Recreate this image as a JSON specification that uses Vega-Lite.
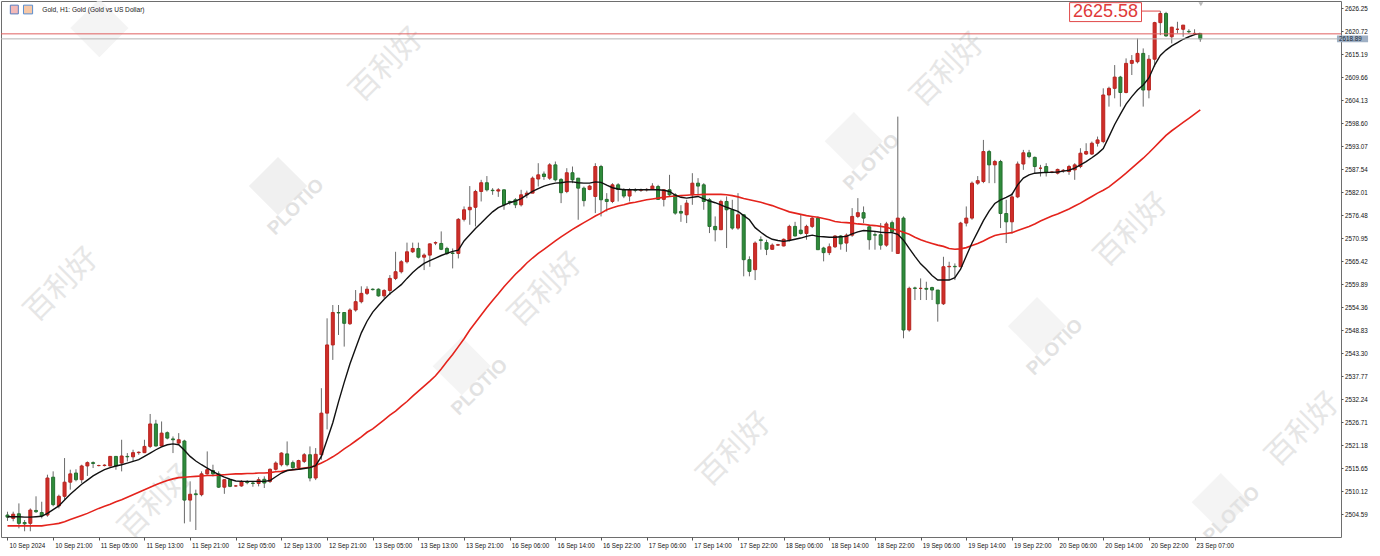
{
"$schema": "https://vega.github.io/schema/vega-lite/v6.json",
"width": 1340, "height": 536,
"autosize": {"type": "none"},
"padding": {"left": 1, "top": 1, "right": 39, "bottom": 19},
"background": "white",
"config": {"view": {"stroke": "#6e6e6e", "strokeWidth": 1}, "font": "Liberation Sans",
  "axis": {"labelFont": "Liberation Sans", "labelFontSize": 6.3, "labelColor": "#111111", "tickColor": "#555555", "grid": false, "domain": false, "title": null, "labelOverlap": false, "labelFlush": false}},
"data": {"values": [
{"i":0,"o":2504.4,"h":2505.2,"l":2503.0,"c":2503.9,"f":2504.0,"s":2501.8},
{"i":1,"o":2503.6,"h":2505.2,"l":2502.9,"c":2504.6,"f":2504.0,"s":2501.8},
{"i":2,"o":2504.7,"h":2507.2,"l":2501.2,"c":2502.4,"f":2504.0,"s":2501.8},
{"i":3,"o":2502.6,"h":2503.2,"l":2500.5,"c":2502.3,"f":2503.9,"s":2501.8},
{"i":4,"o":2502.4,"h":2506.0,"l":2500.5,"c":2505.6,"f":2503.9,"s":2501.8},
{"i":5,"o":2505.5,"h":2508.9,"l":2504.9,"c":2505.2,"f":2504.0,"s":2501.8},
{"i":6,"o":2505.0,"h":2507.6,"l":2503.6,"c":2504.2,"f":2504.1,"s":2501.8},
{"i":7,"o":2504.4,"h":2514.1,"l":2504.0,"c":2513.3,"f":2504.8,"s":2502.0},
{"i":8,"o":2513.5,"h":2514.9,"l":2506.5,"c":2506.9,"f":2505.7,"s":2502.2},
{"i":9,"o":2506.6,"h":2509.3,"l":2506.0,"c":2508.9,"f":2506.6,"s":2502.4},
{"i":10,"o":2508.9,"h":2518.1,"l":2508.1,"c":2512.3,"f":2508.0,"s":2502.8},
{"i":11,"o":2512.3,"h":2515.3,"l":2510.5,"c":2514.3,"f":2509.4,"s":2503.3},
{"i":12,"o":2514.5,"h":2515.4,"l":2512.5,"c":2512.9,"f":2510.6,"s":2503.8},
{"i":13,"o":2512.9,"h":2516.5,"l":2512.1,"c":2516.2,"f":2511.8,"s":2504.3},
{"i":14,"o":2516.2,"h":2517.3,"l":2513.8,"c":2517.0,"f":2512.8,"s":2504.8},
{"i":15,"o":2517.0,"h":2517.3,"l":2515.7,"c":2516.8,"f":2513.8,"s":2505.4},
{"i":16,"o":2516.3,"h":2516.5,"l":2516.1,"c":2516.3,"f":2514.6,"s":2506.0},
{"i":17,"o":2516.3,"h":2516.6,"l":2516.1,"c":2516.4,"f":2515.3,"s":2506.5},
{"i":18,"o":2516.2,"h":2518.6,"l":2516.1,"c":2518.5,"f":2515.8,"s":2507.0},
{"i":19,"o":2518.5,"h":2518.6,"l":2515.3,"c":2516.2,"f":2516.2,"s":2507.6},
{"i":20,"o":2516.9,"h":2522.5,"l":2514.9,"c":2518.6,"f":2516.5,"s":2508.1},
{"i":21,"o":2518.5,"h":2519.3,"l":2517.3,"c":2518.4,"f":2516.9,"s":2508.7},
{"i":22,"o":2518.4,"h":2520.1,"l":2517.3,"c":2519.4,"f":2517.3,"s":2509.3},
{"i":23,"o":2519.4,"h":2519.7,"l":2518.9,"c":2519.5,"f":2517.7,"s":2509.9},
{"i":24,"o":2519.4,"h":2522.5,"l":2519.3,"c":2520.9,"f":2518.5,"s":2510.5},
{"i":25,"o":2520.9,"h":2528.7,"l":2520.5,"c":2526.3,"f":2519.3,"s":2511.1},
{"i":26,"o":2526.3,"h":2527.3,"l":2520.9,"c":2521.0,"f":2520.1,"s":2511.7},
{"i":27,"o":2521.0,"h":2526.9,"l":2520.9,"c":2524.1,"f":2520.8,"s":2512.2},
{"i":28,"o":2524.2,"h":2524.5,"l":2522.6,"c":2522.9,"f":2521.3,"s":2512.7},
{"i":29,"o":2522.7,"h":2523.3,"l":2519.3,"c":2522.5,"f":2521.5,"s":2513.1},
{"i":30,"o":2521.7,"h":2524.1,"l":2521.3,"c":2522.5,"f":2521.3,"s":2513.4},
{"i":31,"o":2522.2,"h":2522.5,"l":2502.4,"c":2508.0,"f":2520.0,"s":2513.5},
{"i":32,"o":2508.0,"h":2512.5,"l":2502.8,"c":2509.4,"f":2518.5,"s":2513.6},
{"i":33,"o":2509.5,"h":2510.5,"l":2500.8,"c":2509.3,"f":2517.4,"s":2513.7},
{"i":34,"o":2509.3,"h":2514.9,"l":2508.9,"c":2514.3,"f":2516.5,"s":2513.8},
{"i":35,"o":2514.3,"h":2519.7,"l":2514.1,"c":2515.3,"f":2515.7,"s":2513.9},
{"i":36,"o":2515.1,"h":2516.5,"l":2513.7,"c":2514.3,"f":2514.9,"s":2513.9},
{"i":37,"o":2514.3,"h":2514.9,"l":2510.9,"c":2511.1,"f":2514.1,"s":2514.0},
{"i":38,"o":2511.1,"h":2513.0,"l":2509.5,"c":2512.9,"f":2513.5,"s":2514.1},
{"i":39,"o":2512.9,"h":2513.0,"l":2511.1,"c":2511.3,"f":2513.0,"s":2514.2},
{"i":40,"o":2511.4,"h":2511.6,"l":2511.2,"c":2511.4,"f":2512.6,"s":2514.3},
{"i":41,"o":2511.4,"h":2512.8,"l":2511.2,"c":2512.5,"f":2512.5,"s":2514.3},
{"i":42,"o":2512.4,"h":2512.8,"l":2511.8,"c":2512.2,"f":2512.5,"s":2514.4},
{"i":43,"o":2512.1,"h":2512.5,"l":2511.2,"c":2512.0,"f":2512.5,"s":2514.4},
{"i":44,"o":2512.0,"h":2513.5,"l":2511.3,"c":2512.9,"f":2512.5,"s":2514.5},
{"i":45,"o":2513.0,"h":2513.7,"l":2510.9,"c":2512.1,"f":2512.5,"s":2514.5},
{"i":46,"o":2512.5,"h":2515.6,"l":2512.1,"c":2515.4,"f":2512.7,"s":2514.6},
{"i":47,"o":2515.4,"h":2517.3,"l":2515.1,"c":2516.9,"f":2513.6,"s":2514.8},
{"i":48,"o":2516.5,"h":2519.5,"l":2516.1,"c":2519.3,"f":2514.5,"s":2514.9},
{"i":49,"o":2519.1,"h":2522.1,"l":2516.1,"c":2516.5,"f":2515.1,"s":2515.1},
{"i":50,"o":2517.0,"h":2517.5,"l":2515.4,"c":2515.8,"f":2515.3,"s":2515.3},
{"i":51,"o":2515.8,"h":2517.7,"l":2515.4,"c":2517.5,"f":2515.4,"s":2515.5},
{"i":52,"o":2517.3,"h":2519.3,"l":2516.9,"c":2518.9,"f":2515.6,"s":2515.7},
{"i":53,"o":2518.9,"h":2520.9,"l":2512.5,"c":2513.3,"f":2515.8,"s":2515.9},
{"i":54,"o":2513.3,"h":2520.5,"l":2512.8,"c":2519.0,"f":2516.3,"s":2516.3},
{"i":55,"o":2518.9,"h":2534.9,"l":2517.7,"c":2528.9,"f":2518.5,"s":2516.9},
{"i":56,"o":2528.9,"h":2551.7,"l":2525.0,"c":2545.3,"f":2522.5,"s":2517.6},
{"i":57,"o":2545.3,"h":2554.9,"l":2541.7,"c":2553.1,"f":2526.6,"s":2518.4},
{"i":58,"o":2553.1,"h":2554.9,"l":2547.7,"c":2553.0,"f":2531.6,"s":2519.3},
{"i":59,"o":2553.1,"h":2553.1,"l":2544.9,"c":2550.5,"f":2536.3,"s":2520.3},
{"i":60,"o":2550.4,"h":2554.1,"l":2550.1,"c":2553.7,"f":2540.7,"s":2521.2},
{"i":61,"o":2553.7,"h":2558.5,"l":2553.3,"c":2555.7,"f":2544.5,"s":2522.2},
{"i":62,"o":2555.7,"h":2559.4,"l":2555.3,"c":2557.7,"f":2548.2,"s":2523.2},
{"i":63,"o":2557.7,"h":2559.4,"l":2557.3,"c":2558.7,"f":2551.0,"s":2524.3},
{"i":64,"o":2558.7,"h":2558.9,"l":2558.4,"c":2558.6,"f":2553.2,"s":2525.1},
{"i":65,"o":2558.7,"h":2558.9,"l":2556.9,"c":2557.1,"f":2554.8,"s":2526.2},
{"i":66,"o":2557.1,"h":2558.7,"l":2556.5,"c":2558.4,"f":2556.3,"s":2527.3},
{"i":67,"o":2558.4,"h":2562.1,"l":2557.3,"c":2561.3,"f":2557.6,"s":2528.4},
{"i":68,"o":2561.3,"h":2567.7,"l":2560.9,"c":2562.9,"f":2558.7,"s":2529.4},
{"i":69,"o":2562.9,"h":2565.7,"l":2562.5,"c":2565.3,"f":2559.8,"s":2530.6},
{"i":70,"o":2565.3,"h":2569.9,"l":2564.9,"c":2567.7,"f":2561.3,"s":2531.7},
{"i":71,"o":2567.7,"h":2569.9,"l":2567.4,"c":2568.5,"f":2562.7,"s":2533.0},
{"i":72,"o":2568.5,"h":2569.9,"l":2566.1,"c":2566.4,"f":2563.9,"s":2534.2},
{"i":73,"o":2566.4,"h":2567.3,"l":2563.3,"c":2566.9,"f":2564.9,"s":2535.4},
{"i":74,"o":2566.9,"h":2569.7,"l":2564.1,"c":2569.6,"f":2565.6,"s":2536.6},
{"i":75,"o":2569.8,"h":2570.2,"l":2569.3,"c":2569.9,"f":2566.2,"s":2537.9},
{"i":76,"o":2569.7,"h":2572.6,"l":2568.1,"c":2568.3,"f":2566.8,"s":2539.5},
{"i":77,"o":2568.5,"h":2568.9,"l":2566.9,"c":2567.3,"f":2567.3,"s":2541.3},
{"i":78,"o":2567.4,"h":2568.5,"l":2563.7,"c":2567.3,"f":2567.8,"s":2543.0},
{"i":79,"o":2567.3,"h":2575.8,"l":2566.1,"c":2575.5,"f":2568.1,"s":2544.9},
{"i":80,"o":2575.5,"h":2578.6,"l":2575.0,"c":2577.8,"f":2570.3,"s":2546.8},
{"i":81,"o":2577.8,"h":2583.5,"l":2574.2,"c":2578.4,"f":2571.8,"s":2548.9},
{"i":82,"o":2578.4,"h":2582.6,"l":2573.8,"c":2582.2,"f":2573.3,"s":2550.7},
{"i":83,"o":2582.2,"h":2585.0,"l":2579.8,"c":2584.3,"f":2574.6,"s":2552.5},
{"i":84,"o":2584.3,"h":2585.9,"l":2582.2,"c":2582.6,"f":2576.0,"s":2554.3},
{"i":85,"o":2582.5,"h":2583.0,"l":2581.4,"c":2582.4,"f":2577.3,"s":2556.0},
{"i":86,"o":2582.3,"h":2583.0,"l":2580.9,"c":2582.6,"f":2578.3,"s":2557.6},
{"i":87,"o":2582.6,"h":2582.7,"l":2577.8,"c":2579.0,"f":2578.9,"s":2559.3},
{"i":88,"o":2579.8,"h":2580.0,"l":2579.0,"c":2579.6,"f":2579.5,"s":2560.8},
{"i":89,"o":2580.2,"h":2580.6,"l":2578.2,"c":2579.0,"f":2579.9,"s":2562.3},
{"i":90,"o":2579.0,"h":2582.6,"l":2578.6,"c":2581.4,"f":2580.5,"s":2563.6},
{"i":91,"o":2581.4,"h":2582.4,"l":2580.6,"c":2581.8,"f":2581.4,"s":2565.0},
{"i":92,"o":2581.8,"h":2585.8,"l":2581.8,"c":2585.4,"f":2582.2,"s":2566.2},
{"i":93,"o":2585.2,"h":2589.0,"l":2583.4,"c":2586.2,"f":2582.9,"s":2567.3},
{"i":94,"o":2586.4,"h":2587.0,"l":2585.0,"c":2585.8,"f":2583.5,"s":2568.3},
{"i":95,"o":2585.4,"h":2589.0,"l":2585.0,"c":2588.6,"f":2583.9,"s":2569.3},
{"i":96,"o":2588.6,"h":2589.4,"l":2584.6,"c":2585.0,"f":2584.2,"s":2570.3},
{"i":97,"o":2585.1,"h":2585.4,"l":2579.4,"c":2581.9,"f":2584.3,"s":2571.3},
{"i":98,"o":2582.2,"h":2587.8,"l":2581.8,"c":2586.7,"f":2584.5,"s":2572.2},
{"i":99,"o":2586.7,"h":2588.2,"l":2584.2,"c":2585.0,"f":2584.5,"s":2573.1},
{"i":100,"o":2585.4,"h":2585.4,"l":2575.4,"c":2583.0,"f":2584.3,"s":2573.9},
{"i":101,"o":2583.0,"h":2583.4,"l":2578.6,"c":2580.0,"f":2584.2,"s":2574.7},
{"i":102,"o":2582.7,"h":2583.8,"l":2582.5,"c":2583.5,"f":2584.2,"s":2575.5},
{"i":103,"o":2581.0,"h":2589.0,"l":2577.0,"c":2588.2,"f":2584.5,"s":2576.3},
{"i":104,"o":2588.2,"h":2588.6,"l":2576.2,"c":2580.2,"f":2584.4,"s":2577.0},
{"i":105,"o":2580.3,"h":2581.8,"l":2577.4,"c":2579.8,"f":2583.7,"s":2577.8},
{"i":106,"o":2579.8,"h":2584.2,"l":2579.4,"c":2583.8,"f":2583.1,"s":2578.3},
{"i":107,"o":2583.8,"h":2584.2,"l":2579.8,"c":2582.7,"f":2582.8,"s":2578.7},
{"i":108,"o":2582.6,"h":2583.0,"l":2580.6,"c":2581.1,"f":2582.6,"s":2579.0},
{"i":109,"o":2581.1,"h":2583.0,"l":2579.8,"c":2582.6,"f":2582.6,"s":2579.4},
{"i":110,"o":2582.6,"h":2583.0,"l":2582.0,"c":2582.5,"f":2582.6,"s":2579.6},
{"i":111,"o":2582.5,"h":2582.9,"l":2582.1,"c":2582.6,"f":2582.6,"s":2579.9},
{"i":112,"o":2582.6,"h":2583.0,"l":2582.2,"c":2582.7,"f":2582.6,"s":2580.2},
{"i":113,"o":2582.7,"h":2584.2,"l":2582.6,"c":2583.5,"f":2582.6,"s":2580.4},
{"i":114,"o":2583.4,"h":2583.8,"l":2580.2,"c":2580.3,"f":2582.6,"s":2580.6},
{"i":115,"o":2580.3,"h":2582.6,"l":2578.6,"c":2582.6,"f":2582.5,"s":2580.8},
{"i":116,"o":2582.6,"h":2586.2,"l":2581.0,"c":2581.4,"f":2582.2,"s":2581.0},
{"i":117,"o":2581.4,"h":2581.8,"l":2576.6,"c":2577.0,"f":2581.3,"s":2581.1},
{"i":118,"o":2577.4,"h":2578.9,"l":2574.9,"c":2577.0,"f":2580.8,"s":2581.2},
{"i":119,"o":2576.6,"h":2580.2,"l":2574.6,"c":2579.4,"f":2580.6,"s":2581.3},
{"i":120,"o":2581.4,"h":2586.6,"l":2579.0,"c":2584.2,"f":2580.8,"s":2581.4},
{"i":121,"o":2584.2,"h":2585.4,"l":2581.4,"c":2583.5,"f":2581.0,"s":2581.4},
{"i":122,"o":2583.8,"h":2584.2,"l":2577.8,"c":2579.8,"f":2580.4,"s":2581.5},
{"i":123,"o":2580.2,"h":2580.6,"l":2572.2,"c":2573.8,"f":2579.9,"s":2581.5},
{"i":124,"o":2573.8,"h":2576.2,"l":2570.2,"c":2573.0,"f":2579.5,"s":2581.5},
{"i":125,"o":2573.0,"h":2580.2,"l":2573.0,"c":2579.8,"f":2579.0,"s":2581.5},
{"i":126,"o":2579.8,"h":2581.0,"l":2568.6,"c":2577.8,"f":2578.4,"s":2581.4},
{"i":127,"o":2577.8,"h":2580.2,"l":2573.0,"c":2573.4,"f":2577.9,"s":2581.2},
{"i":128,"o":2573.4,"h":2581.8,"l":2573.0,"c":2576.6,"f":2577.4,"s":2580.9},
{"i":129,"o":2576.6,"h":2576.6,"l":2561.8,"c":2565.8,"f":2576.4,"s":2580.5},
{"i":130,"o":2565.8,"h":2566.6,"l":2561.8,"c":2563.0,"f":2575.4,"s":2580.2},
{"i":131,"o":2563.4,"h":2570.2,"l":2560.9,"c":2569.8,"f":2573.5,"s":2579.9},
{"i":132,"o":2570.6,"h":2571.4,"l":2568.2,"c":2570.4,"f":2572.4,"s":2579.6},
{"i":133,"o":2569.9,"h":2570.6,"l":2566.9,"c":2568.3,"f":2571.4,"s":2579.2},
{"i":134,"o":2568.3,"h":2569.7,"l":2568.2,"c":2569.3,"f":2570.7,"s":2578.8},
{"i":135,"o":2569.3,"h":2569.6,"l":2569.1,"c":2569.4,"f":2570.4,"s":2578.3},
{"i":136,"o":2569.1,"h":2570.9,"l":2569.0,"c":2570.7,"f":2570.2,"s":2577.8},
{"i":137,"o":2570.6,"h":2574.2,"l":2570.2,"c":2573.8,"f":2570.4,"s":2577.3},
{"i":138,"o":2573.8,"h":2574.9,"l":2571.4,"c":2571.5,"f":2570.7,"s":2577.0},
{"i":139,"o":2572.9,"h":2576.6,"l":2571.8,"c":2572.1,"f":2571.0,"s":2576.7},
{"i":140,"o":2572.1,"h":2574.2,"l":2570.6,"c":2573.8,"f":2571.4,"s":2576.4},
{"i":141,"o":2573.8,"h":2576.2,"l":2573.4,"c":2575.8,"f":2571.7,"s":2576.2},
{"i":142,"o":2575.8,"h":2576.2,"l":2568.2,"c":2568.2,"f":2571.4,"s":2576.0},
{"i":143,"o":2568.6,"h":2568.9,"l":2565.4,"c":2567.5,"f":2571.3,"s":2575.7},
{"i":144,"o":2567.5,"h":2569.7,"l":2566.9,"c":2568.9,"f":2571.2,"s":2575.4},
{"i":145,"o":2568.9,"h":2571.7,"l":2568.6,"c":2571.5,"f":2571.2,"s":2575.0},
{"i":146,"o":2571.5,"h":2571.7,"l":2568.2,"c":2569.6,"f":2571.3,"s":2574.8},
{"i":147,"o":2569.8,"h":2572.1,"l":2567.7,"c":2571.7,"f":2571.4,"s":2574.7},
{"i":148,"o":2571.7,"h":2578.2,"l":2571.3,"c":2576.2,"f":2572.0,"s":2574.6},
{"i":149,"o":2576.2,"h":2580.6,"l":2575.8,"c":2577.1,"f":2572.5,"s":2574.4},
{"i":150,"o":2577.1,"h":2578.6,"l":2574.6,"c":2575.8,"f":2572.8,"s":2574.3},
{"i":151,"o":2573.7,"h":2574.2,"l":2568.2,"c":2570.6,"f":2572.7,"s":2574.1},
{"i":152,"o":2571.8,"h":2572.5,"l":2568.2,"c":2571.7,"f":2572.6,"s":2574.0},
{"i":153,"o":2571.8,"h":2574.6,"l":2568.2,"c":2569.3,"f":2572.4,"s":2573.8},
{"i":154,"o":2569.3,"h":2574.9,"l":2568.9,"c":2574.4,"f":2572.3,"s":2573.6},
{"i":155,"o":2574.7,"h":2575.2,"l":2567.7,"c":2572.5,"f":2572.3,"s":2573.2},
{"i":156,"o":2567.3,"h":2600.2,"l":2567.3,"c":2575.8,"f":2571.9,"s":2572.9},
{"i":157,"o":2575.8,"h":2576.2,"l":2546.9,"c":2548.9,"f":2570.5,"s":2572.4},
{"i":158,"o":2548.9,"h":2559.3,"l":2548.5,"c":2558.9,"f":2568.5,"s":2571.9},
{"i":159,"o":2559.0,"h":2559.3,"l":2556.1,"c":2558.9,"f":2566.6,"s":2571.2},
{"i":160,"o":2558.9,"h":2561.3,"l":2556.1,"c":2558.9,"f":2564.8,"s":2570.6},
{"i":161,"o":2558.9,"h":2560.5,"l":2556.1,"c":2558.7,"f":2563.5,"s":2570.1},
{"i":162,"o":2559.1,"h":2559.3,"l":2556.1,"c":2558.5,"f":2562.0,"s":2569.7},
{"i":163,"o":2558.5,"h":2558.5,"l":2550.9,"c":2555.2,"f":2560.9,"s":2569.3},
{"i":164,"o":2555.2,"h":2566.5,"l":2554.9,"c":2564.1,"f":2560.9,"s":2569.0},
{"i":165,"o":2564.1,"h":2565.3,"l":2560.9,"c":2564.2,"f":2560.9,"s":2568.5},
{"i":166,"o":2564.2,"h":2564.9,"l":2560.9,"c":2564.1,"f":2561.5,"s":2568.3},
{"i":167,"o":2564.1,"h":2574.9,"l":2564.1,"c":2574.6,"f":2563.5,"s":2568.4},
{"i":168,"o":2574.6,"h":2578.6,"l":2573.8,"c":2575.8,"f":2566.7,"s":2568.7},
{"i":169,"o":2575.8,"h":2584.6,"l":2575.4,"c":2584.2,"f":2569.8,"s":2569.2},
{"i":170,"o":2584.2,"h":2585.9,"l":2583.8,"c":2584.8,"f":2572.5,"s":2569.7},
{"i":171,"o":2584.6,"h":2594.6,"l":2584.2,"c":2591.8,"f":2575.2,"s":2570.3},
{"i":172,"o":2591.8,"h":2592.2,"l":2584.2,"c":2588.6,"f":2577.5,"s":2571.0},
{"i":173,"o":2588.6,"h":2589.8,"l":2584.2,"c":2589.4,"f":2579.3,"s":2571.6},
{"i":174,"o":2589.4,"h":2589.8,"l":2573.4,"c":2576.9,"f":2580.2,"s":2571.9},
{"i":175,"o":2576.9,"h":2580.2,"l":2569.8,"c":2574.9,"f":2580.8,"s":2572.1},
{"i":176,"o":2574.9,"h":2581.8,"l":2572.1,"c":2580.9,"f":2581.5,"s":2572.3},
{"i":177,"o":2580.9,"h":2589.4,"l":2580.6,"c":2588.8,"f":2583.8,"s":2572.8},
{"i":178,"o":2588.8,"h":2592.2,"l":2587.4,"c":2591.5,"f":2585.4,"s":2573.3},
{"i":179,"o":2591.5,"h":2592.2,"l":2590.2,"c":2590.6,"f":2586.2,"s":2573.8},
{"i":180,"o":2590.4,"h":2590.6,"l":2586.6,"c":2588.2,"f":2586.6,"s":2574.4},
{"i":181,"o":2587.8,"h":2588.6,"l":2585.8,"c":2587.8,"f":2586.7,"s":2575.1},
{"i":182,"o":2588.2,"h":2589.0,"l":2585.8,"c":2586.7,"f":2586.8,"s":2575.7},
{"i":183,"o":2586.8,"h":2587.0,"l":2586.6,"c":2586.9,"f":2586.8,"s":2576.3},
{"i":184,"o":2586.6,"h":2587.7,"l":2586.3,"c":2587.5,"f":2586.9,"s":2576.8},
{"i":185,"o":2587.2,"h":2587.6,"l":2586.7,"c":2587.3,"f":2587.1,"s":2577.4},
{"i":186,"o":2587.0,"h":2588.6,"l":2586.2,"c":2588.2,"f":2587.3,"s":2578.0},
{"i":187,"o":2587.4,"h":2589.0,"l":2585.0,"c":2588.6,"f":2587.8,"s":2578.7},
{"i":188,"o":2588.2,"h":2592.6,"l":2587.8,"c":2591.4,"f":2588.6,"s":2579.4},
{"i":189,"o":2591.2,"h":2593.8,"l":2591.0,"c":2591.8,"f":2589.4,"s":2580.2},
{"i":190,"o":2591.2,"h":2594.2,"l":2591.0,"c":2593.8,"f":2590.3,"s":2581.0},
{"i":191,"o":2593.8,"h":2595.4,"l":2593.0,"c":2594.6,"f":2591.3,"s":2581.8},
{"i":192,"o":2594.2,"h":2607.0,"l":2593.8,"c":2605.4,"f":2592.5,"s":2582.5},
{"i":193,"o":2605.4,"h":2607.4,"l":2602.6,"c":2607.0,"f":2595.4,"s":2583.3},
{"i":194,"o":2607.0,"h":2612.6,"l":2604.6,"c":2609.7,"f":2598.3,"s":2584.4},
{"i":195,"o":2609.7,"h":2610.0,"l":2602.6,"c":2606.0,"f":2600.8,"s":2585.5},
{"i":196,"o":2606.0,"h":2614.2,"l":2605.8,"c":2613.0,"f":2603.2,"s":2586.6},
{"i":197,"o":2613.0,"h":2615.0,"l":2610.2,"c":2613.7,"f":2605.0,"s":2587.8},
{"i":198,"o":2613.4,"h":2619.0,"l":2613.0,"c":2615.4,"f":2606.6,"s":2589.0},
{"i":199,"o":2615.4,"h":2616.6,"l":2602.6,"c":2606.6,"f":2607.8,"s":2590.2},
{"i":200,"o":2606.6,"h":2615.0,"l":2604.6,"c":2614.0,"f":2609.5,"s":2591.5},
{"i":201,"o":2614.0,"h":2623.0,"l":2612.2,"c":2622.8,"f":2612.6,"s":2592.9},
{"i":202,"o":2622.8,"h":2625.58,"l":2619.8,"c":2625.0,"f":2614.9,"s":2594.3},
{"i":203,"o":2625.0,"h":2625.4,"l":2619.4,"c":2619.6,"f":2616.2,"s":2595.7},
{"i":204,"o":2619.4,"h":2621.8,"l":2617.8,"c":2621.7,"f":2617.2,"s":2596.8},
{"i":205,"o":2621.2,"h":2623.0,"l":2620.2,"c":2621.2,"f":2618.0,"s":2597.8},
{"i":206,"o":2621.2,"h":2622.2,"l":2619.4,"c":2622.2,"f":2618.8,"s":2598.8},
{"i":207,"o":2620.7,"h":2621.2,"l":2620.2,"c":2620.6,"f":2619.4,"s":2599.8},
{"i":208,"o":2620.2,"h":2621.2,"l":2619.8,"c":2620.2,"f":2619.9,"s":2600.8},
{"i":209,"o":2620.2,"h":2620.2,"l":2618.2,"c":2618.89,"f":2620.2,"s":2601.8}
]},
"layer": [
{"data": {"values": [{"t": "PLOTIO"}]},
 "mark": {"type": "point", "shape": "diamond", "filled": true, "color": "#f0f0f0", "size": 3400, "clip": true, "opacity": 1},
 "encoding": {
  "x": {"datum": 47.4, "type": "quantitative", "scale": {"domain": [-0.261, 232.78], "nice": false, "zero": false}},
  "y": {"datum": 2583.5, "type": "quantitative", "scale": {"domain": [2499.12, 2628.0], "nice": false, "zero": false}}}},
{"data": {"values": [{"t": "PLOTIO"}]},
 "mark": {"type": "point", "shape": "diamond", "filled": true, "color": "#f0f0f0", "size": 3400, "clip": true},
 "encoding": {
  "x": {"datum": 79.6, "type": "quantitative", "scale": {"domain": [-0.261, 232.78], "nice": false, "zero": false}},
  "y": {"datum": 2540.2, "type": "quantitative", "scale": {"domain": [2499.12, 2628.0], "nice": false, "zero": false}}}},
{"data": {"values": [{"t": "PLOTIO"}]},
 "mark": {"type": "point", "shape": "diamond", "filled": true, "color": "#f0f0f0", "size": 3400, "clip": true},
 "encoding": {
  "x": {"datum": 148.3, "type": "quantitative", "scale": {"domain": [-0.261, 232.78], "nice": false, "zero": false}},
  "y": {"datum": 2594.3, "type": "quantitative", "scale": {"domain": [2499.12, 2628.0], "nice": false, "zero": false}}}},
{"data": {"values": [{"t": "PLOTIO"}]},
 "mark": {"type": "point", "shape": "diamond", "filled": true, "color": "#f0f0f0", "size": 3400, "clip": true},
 "encoding": {
  "x": {"datum": 180.4, "type": "quantitative", "scale": {"domain": [-0.261, 232.78], "nice": false, "zero": false}},
  "y": {"datum": 2549.8, "type": "quantitative", "scale": {"domain": [2499.12, 2628.0], "nice": false, "zero": false}}}},
{"data": {"values": [{"t": "PLOTIO"}]},
 "mark": {"type": "point", "shape": "diamond", "filled": true, "color": "#f0f0f0", "size": 3400, "clip": true},
 "encoding": {
  "x": {"datum": 212.6, "type": "quantitative", "scale": {"domain": [-0.261, 232.78], "nice": false, "zero": false}},
  "y": {"datum": 2507.5, "type": "quantitative", "scale": {"domain": [2499.12, 2628.0], "nice": false, "zero": false}}}},
{"data": {"values": [{"t": "PLOTIO"}]},
 "mark": {"type": "point", "shape": "diamond", "filled": true, "color": "#f0f0f0", "size": 3400, "clip": true},
 "encoding": {
  "x": {"datum": 16.1, "type": "quantitative", "scale": {"domain": [-0.261, 232.78], "nice": false, "zero": false}},
  "y": {"datum": 2621.5, "type": "quantitative", "scale": {"domain": [2499.12, 2628.0], "nice": false, "zero": false}}}},
{"data": {"values": [{"t": "PLOTIO"}]},
 "mark": {"type": "text", "angle": -45, "fontSize": 19, "fontWeight": "bold", "color": "#e2e2e2", "clip": true},
 "encoding": {
  "x": {"datum": 50.5, "type": "quantitative", "scale": {"domain": [-0.261, 232.78], "nice": false, "zero": false}},
  "y": {"datum": 2578.5, "type": "quantitative", "scale": {"domain": [2499.12, 2628.0], "nice": false, "zero": false}},
  "text": {"field": "t"}}},
{"data": {"values": [{"t": "PLOTIO"}]},
 "mark": {"type": "text", "angle": -45, "fontSize": 19, "fontWeight": "bold", "color": "#e2e2e2", "clip": true},
 "encoding": {
  "x": {"datum": 82.7, "type": "quantitative", "scale": {"domain": [-0.261, 232.78], "nice": false, "zero": false}},
  "y": {"datum": 2535.2, "type": "quantitative", "scale": {"domain": [2499.12, 2628.0], "nice": false, "zero": false}},
  "text": {"field": "t"}}},
{"data": {"values": [{"t": "PLOTIO"}]},
 "mark": {"type": "text", "angle": -45, "fontSize": 19, "fontWeight": "bold", "color": "#e2e2e2", "clip": true},
 "encoding": {
  "x": {"datum": 151.4, "type": "quantitative", "scale": {"domain": [-0.261, 232.78], "nice": false, "zero": false}},
  "y": {"datum": 2589.3, "type": "quantitative", "scale": {"domain": [2499.12, 2628.0], "nice": false, "zero": false}},
  "text": {"field": "t"}}},
{"data": {"values": [{"t": "PLOTIO"}]},
 "mark": {"type": "text", "angle": -45, "fontSize": 19, "fontWeight": "bold", "color": "#e2e2e2", "clip": true},
 "encoding": {
  "x": {"datum": 183.5, "type": "quantitative", "scale": {"domain": [-0.261, 232.78], "nice": false, "zero": false}},
  "y": {"datum": 2544.8, "type": "quantitative", "scale": {"domain": [2499.12, 2628.0], "nice": false, "zero": false}},
  "text": {"field": "t"}}},
{"data": {"values": [{"t": "PLOTIO"}]},
 "mark": {"type": "text", "angle": -45, "fontSize": 19, "fontWeight": "bold", "color": "#e2e2e2", "clip": true},
 "encoding": {
  "x": {"datum": 214.5, "type": "quantitative", "scale": {"domain": [-0.261, 232.78], "nice": false, "zero": false}},
  "y": {"datum": 2504.6, "type": "quantitative", "scale": {"domain": [2499.12, 2628.0], "nice": false, "zero": false}},
  "text": {"field": "t"}}},
{"data": {"values": [{"t": "百利好"}]},
 "mark": {"type": "text", "angle": -45, "fontSize": 30, "font": "Noto Sans CJK SC", "color": "#e6e6e6", "clip": true},
 "encoding": {
  "x": {"datum": 66.5, "type": "quantitative", "scale": {"domain": [-0.261, 232.78], "nice": false, "zero": false}},
  "y": {"datum": 2612.6, "type": "quantitative", "scale": {"domain": [2499.12, 2628.0], "nice": false, "zero": false}},
  "text": {"field": "t"}}},
{"data": {"values": [{"t": "百利好"}]},
 "mark": {"type": "text", "angle": -45, "fontSize": 30, "font": "Noto Sans CJK SC", "color": "#e6e6e6", "clip": true},
 "encoding": {
  "x": {"datum": 164.8, "type": "quantitative", "scale": {"domain": [-0.261, 232.78], "nice": false, "zero": false}},
  "y": {"datum": 2611.4, "type": "quantitative", "scale": {"domain": [2499.12, 2628.0], "nice": false, "zero": false}},
  "text": {"field": "t"}}},
{"data": {"values": [{"t": "百利好"}]},
 "mark": {"type": "text", "angle": -45, "fontSize": 30, "font": "Noto Sans CJK SC", "color": "#e6e6e6", "clip": true},
 "encoding": {
  "x": {"datum": 94.3, "type": "quantitative", "scale": {"domain": [-0.261, 232.78], "nice": false, "zero": false}},
  "y": {"datum": 2558.5, "type": "quantitative", "scale": {"domain": [2499.12, 2628.0], "nice": false, "zero": false}},
  "text": {"field": "t"}}},
{"data": {"values": [{"t": "百利好"}]},
 "mark": {"type": "text", "angle": -45, "fontSize": 30, "font": "Noto Sans CJK SC", "color": "#e6e6e6", "clip": true},
 "encoding": {
  "x": {"datum": 197.0, "type": "quantitative", "scale": {"domain": [-0.261, 232.78], "nice": false, "zero": false}},
  "y": {"datum": 2572.9, "type": "quantitative", "scale": {"domain": [2499.12, 2628.0], "nice": false, "zero": false}},
  "text": {"field": "t"}}},
{"data": {"values": [{"t": "百利好"}]},
 "mark": {"type": "text", "angle": -45, "fontSize": 30, "font": "Noto Sans CJK SC", "color": "#e6e6e6", "clip": true},
 "encoding": {
  "x": {"datum": 127.4, "type": "quantitative", "scale": {"domain": [-0.261, 232.78], "nice": false, "zero": false}},
  "y": {"datum": 2520.1, "type": "quantitative", "scale": {"domain": [2499.12, 2628.0], "nice": false, "zero": false}},
  "text": {"field": "t"}}},
{"data": {"values": [{"t": "百利好"}]},
 "mark": {"type": "text", "angle": -45, "fontSize": 30, "font": "Noto Sans CJK SC", "color": "#e6e6e6", "clip": true},
 "encoding": {
  "x": {"datum": 227.0, "type": "quantitative", "scale": {"domain": [-0.261, 232.78], "nice": false, "zero": false}},
  "y": {"datum": 2524.9, "type": "quantitative", "scale": {"domain": [2499.12, 2628.0], "nice": false, "zero": false}},
  "text": {"field": "t"}}},
{"data": {"values": [{"t": "百利好"}]},
 "mark": {"type": "text", "angle": -45, "fontSize": 30, "font": "Noto Sans CJK SC", "color": "#e6e6e6", "clip": true},
 "encoding": {
  "x": {"datum": 26.0, "type": "quantitative", "scale": {"domain": [-0.261, 232.78], "nice": false, "zero": false}},
  "y": {"datum": 2507.5, "type": "quantitative", "scale": {"domain": [2499.12, 2628.0], "nice": false, "zero": false}},
  "text": {"field": "t"}}},
{"data": {"values": [{"t": "百利好"}]},
 "mark": {"type": "text", "angle": -45, "fontSize": 30, "font": "Noto Sans CJK SC", "color": "#e6e6e6", "clip": true},
 "encoding": {
  "x": {"datum": 9.5, "type": "quantitative", "scale": {"domain": [-0.261, 232.78], "nice": false, "zero": false}},
  "y": {"datum": 2559.7, "type": "quantitative", "scale": {"domain": [2499.12, 2628.0], "nice": false, "zero": false}},
  "text": {"field": "t"}}},
{"mark": {"type": "rule", "color": "#6a6a6a", "strokeWidth": 1},
 "encoding": {
  "x": {"field": "i", "type": "quantitative", "scale": {"domain": [-0.261, 232.78], "nice": false, "zero": false},
    "axis": {"orient": "bottom", "values": [0,8,16,24,32,40,48,56,64,72,80,88,96,104,112,120,128,136,144,152,160,168,176,184,192,200,208], "tickCount": 60,
      "labelExpr": "['10 Sep 2024','10 Sep 21:00','11 Sep 05:00','11 Sep 13:00','11 Sep 21:00','12 Sep 05:00','12 Sep 13:00','12 Sep 21:00','13 Sep 05:00','13 Sep 13:00','13 Sep 21:00','16 Sep 06:00','16 Sep 14:00','16 Sep 22:00','17 Sep 06:00','17 Sep 14:00','17 Sep 22:00','18 Sep 06:00','18 Sep 14:00','18 Sep 22:00','19 Sep 06:00','19 Sep 14:00','19 Sep 22:00','20 Sep 06:00','20 Sep 14:00','20 Sep 22:00','23 Sep 07:00'][round(datum.value/8)]",
      "labelAlign": "left", "labelOffset": 1.5, "labelPadding": 2, "tickSize": 3, "labelFlush": false, "labelOverlap": false}},
  "y": {"field": "l", "type": "quantitative", "scale": {"domain": [2499.12, 2628.0], "nice": false, "zero": false},
    "axis": {"orient": "right", "values": [2504.59,2510.12,2515.65,2521.18,2526.71,2532.24,2537.77,2543.30,2548.83,2554.36,2559.89,2565.42,2570.95,2576.48,2582.01,2587.54,2593.07,2598.60,2604.13,2609.66,2615.19,2620.72,2626.25], "tickCount": 60,
      "format": ".2f", "tickSize": 2, "labelPadding": 1.5, "labelFlush": false, "labelOverlap": false}},
  "y2": {"field": "h"}}},
{"mark": {"type": "bar", "width": 3, "strokeWidth": 1},
 "encoding": {
  "x": {"field": "i", "type": "quantitative", "scale": {"domain": [-0.261, 232.78], "nice": false, "zero": false}},
  "y": {"field": "o", "type": "quantitative", "scale": {"domain": [2499.12, 2628.0], "nice": false, "zero": false}},
  "y2": {"field": "c"},
  "fill": {"condition": {"test": "datum.c >= datum.o", "value": "#cf2e2a"}, "value": "#2f8c3b"},
  "stroke": {"condition": {"test": "datum.c >= datum.o", "value": "#b8241f"}, "value": "#256f2f"}}},
{"mark": {"type": "line", "color": "#e4231c", "strokeWidth": 1.6},
 "encoding": {
  "x": {"field": "i", "type": "quantitative", "scale": {"domain": [-0.261, 232.78], "nice": false, "zero": false}},
  "y": {"field": "s", "type": "quantitative", "scale": {"domain": [2499.12, 2628.0], "nice": false, "zero": false}}}},
{"mark": {"type": "line", "color": "#111111", "strokeWidth": 1.4},
 "encoding": {
  "x": {"field": "i", "type": "quantitative", "scale": {"domain": [-0.261, 232.78], "nice": false, "zero": false}},
  "y": {"field": "f", "type": "quantitative", "scale": {"domain": [2499.12, 2628.0], "nice": false, "zero": false}}}},
{"data": {"values": [{"p": 2620.1, "k": "ask"}]},
 "mark": {"type": "rule", "color": "#e06060", "strokeWidth": 1},
 "encoding": {"y": {"field": "p", "type": "quantitative", "scale": {"domain": [2499.12, 2628.0], "nice": false, "zero": false}}}},
{"data": {"values": [{"p": 2618.89, "k": "bid"}]},
 "mark": {"type": "rule", "color": "#b4b4b4", "strokeWidth": 1},
 "encoding": {"y": {"field": "p", "type": "quantitative", "scale": {"domain": [2499.12, 2628.0], "nice": false, "zero": false}}}},
{"data": {"values": [{"t": "2618.89"}]},
 "mark": {"type": "rect", "fill": "#9fb0c4", "clip": false},
 "encoding": {
  "x": {"datum": 232.95, "type": "quantitative", "scale": {"domain": [-0.261, 232.78], "nice": false, "zero": false}},
  "x2": {"datum": 238.4},
  "y": {"datum": 2619.7, "type": "quantitative", "scale": {"domain": [2499.12, 2628.0], "nice": false, "zero": false}},
  "y2": {"datum": 2618.1}}},
{"data": {"values": [{"t": "2618.89"}]},
 "mark": {"type": "text", "align": "left", "baseline": "middle", "fontSize": 6.3, "color": "#1a2a3a", "clip": false},
 "encoding": {
  "x": {"datum": 233.3, "type": "quantitative", "scale": {"domain": [-0.261, 232.78], "nice": false, "zero": false}},
  "y": {"datum": 2618.89, "type": "quantitative", "scale": {"domain": [2499.12, 2628.0], "nice": false, "zero": false}},
  "text": {"field": "t"}}},
{"data": {"values": [{"t": "2625.58"}]},
 "mark": {"type": "rule", "color": "#e04848", "strokeWidth": 1},
 "encoding": {
  "x": {"datum": 198.7, "type": "quantitative", "scale": {"domain": [-0.261, 232.78], "nice": false, "zero": false}},
  "x2": {"datum": 202},
  "y": {"datum": 2625.58, "type": "quantitative", "scale": {"domain": [2499.12, 2628.0], "nice": false, "zero": false}}}},
{"data": {"values": [{"t": "2625.58"}]},
 "mark": {"type": "rect", "fill": "white", "stroke": "#e04848", "strokeWidth": 1},
 "encoding": {
  "x": {"datum": 186.1, "type": "quantitative", "scale": {"domain": [-0.261, 232.78], "nice": false, "zero": false}},
  "x2": {"datum": 198.7},
  "y": {"datum": 2627.6, "type": "quantitative", "scale": {"domain": [2499.12, 2628.0], "nice": false, "zero": false}},
  "y2": {"datum": 2623.05}}},
{"data": {"values": [{"t": "2625.58"}]},
 "mark": {"type": "text", "align": "center", "baseline": "middle", "fontSize": 18, "font": "Liberation Sans", "color": "#e03a3a"},
 "encoding": {
  "x": {"datum": 192.4, "type": "quantitative", "scale": {"domain": [-0.261, 232.78], "nice": false, "zero": false}},
  "y": {"datum": 2625.3, "type": "quantitative", "scale": {"domain": [2499.12, 2628.0], "nice": false, "zero": false}},
  "text": {"field": "t"}}},
{"data": {"values": [{"t": "Gold, H1:  Gold (Gold vs US Dollar)"}]},
 "mark": {"type": "text", "align": "left", "baseline": "middle", "fontSize": 6.6, "font": "Liberation Sans", "color": "#222222"},
 "encoding": {
  "x": {"datum": 6.1, "type": "quantitative", "scale": {"domain": [-0.261, 232.78], "nice": false, "zero": false}},
  "y": {"datum": 2625.8, "type": "quantitative", "scale": {"domain": [2499.12, 2628.0], "nice": false, "zero": false}},
  "text": {"field": "t"}}},
{"data": {"values": [{"t": "icon"}]},
 "mark": {"type": "rect", "fill": "#f3b9b9", "stroke": "#5a7fc0", "strokeWidth": 1},
 "encoding": {
  "x": {"datum": 0.5, "type": "quantitative", "scale": {"domain": [-0.261, 232.78], "nice": false, "zero": false}},
  "x2": {"datum": 1.9},
  "y": {"datum": 2627.0, "type": "quantitative", "scale": {"domain": [2499.12, 2628.0], "nice": false, "zero": false}},
  "y2": {"datum": 2624.9}}},
{"data": {"values": [{"t": "icon"}]},
 "mark": {"type": "rect", "fill": "#f6c8a8", "stroke": "#5a8fd0", "strokeWidth": 1},
 "encoding": {
  "x": {"datum": 2.8, "type": "quantitative", "scale": {"domain": [-0.261, 232.78], "nice": false, "zero": false}},
  "x2": {"datum": 4.4},
  "y": {"datum": 2627.0, "type": "quantitative", "scale": {"domain": [2499.12, 2628.0], "nice": false, "zero": false}},
  "y2": {"datum": 2624.9}}},
{"data": {"values": [{"t": "m"}]},
 "mark": {"type": "point", "shape": "triangle-down", "filled": true, "color": "#9a9a9a", "size": 22},
 "encoding": {
  "x": {"datum": 209.1, "type": "quantitative", "scale": {"domain": [-0.261, 232.78], "nice": false, "zero": false}},
  "y": {"datum": 2627.2, "type": "quantitative", "scale": {"domain": [2499.12, 2628.0], "nice": false, "zero": false}}}}
]
}
